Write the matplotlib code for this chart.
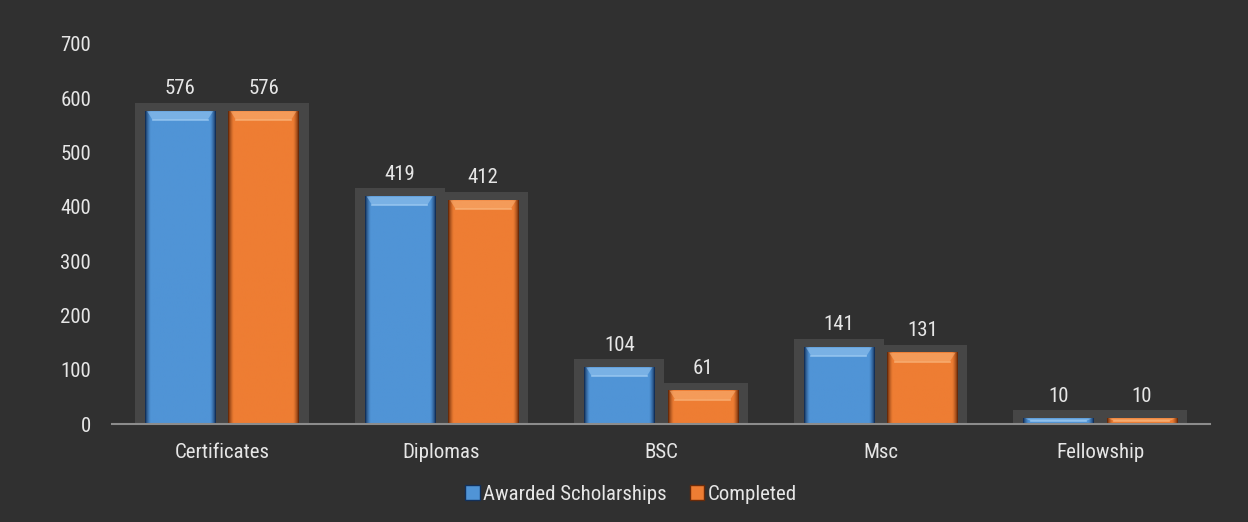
import matplotlib
matplotlib.use('Agg')
import matplotlib.pyplot as plt
from matplotlib.colors import to_rgb
from matplotlib.patches import Rectangle, Polygon, Patch
import numpy as np

categories = ['Certificates', 'Diplomas', 'BSC', 'Msc', 'Fellowship']
awarded = [576, 419, 104, 141, 10]
completed = [576, 412, 61, 131, 10]
series_names = ['Awarded Scholarships', 'Completed']

BG = '#303030'
SHADOW = '#464646'
TEXT = '#e6e6e6'
BLUE = '#5094d6'
BLUE_HI = '#9ccaf2'
BLUE_DK = '#12305a'
ORANGE = '#ee7d33'
ORANGE_HI = '#fab47a'
ORANGE_DK = '#6a2a08'

plt.rcParams['font.family'] = ['Roboto Condensed', 'DejaVu Sans']

fig = plt.figure(figsize=(12.48, 5.22), dpi=100, facecolor=BG)
ax = fig.add_axes([112 / 1248, 98 / 522, 1098 / 1248, 380 / 522])
ax.set_facecolor(BG)

x = np.arange(len(categories))
offset = 0.19
bar_w = 0.32
shadow_w = 0.41
ymax = 700


def edge_gradient(face, dk, n=64):
    # horizontal colour ramp: dark rims, flat face in the middle
    t = np.linspace(0, 1, n)
    mix = np.clip(np.minimum(t, 1 - t) / 0.07, 0, 1) ** 0.7
    f, d = np.array(to_rgb(face)), np.array(to_rgb(dk))
    return (d[None, :] * (1 - mix[:, None]) + f[None, :] * mix[:, None])[None, :, :]


def bevel_bar(cx, val, face, hi, dk):
    left = cx - bar_w / 2
    # soft shadow box behind the bar
    ax.add_patch(Rectangle((cx - shadow_w / 2, 0), shadow_w, val + 15,
                           facecolor=SHADOW, edgecolor='none', zorder=1))
    ax.imshow(edge_gradient(face, dk), extent=(left, left + bar_w, 0, val),
              aspect='auto', interpolation='bilinear', zorder=2)
    # bevelled top edge
    bh = min(16, val * 0.45)
    inset = 0.035
    ax.add_patch(Polygon([(left + 0.01, val), (left + bar_w - 0.01, val),
                          (left + bar_w - inset, val - bh),
                          (left + inset, val - bh)],
                         closed=True, facecolor=hi, edgecolor='none',
                         alpha=0.55, zorder=3))
    ax.plot([left + inset, left + bar_w - inset], [val - bh, val - bh],
            color=hi, lw=1.2, alpha=0.8, zorder=3)
    ax.text(cx, val + 24, str(val), ha='center', va='bottom',
            color=TEXT, fontsize=15, zorder=4)


for i in range(len(categories)):
    bevel_bar(x[i] - offset, awarded[i], BLUE, BLUE_HI, BLUE_DK)
    bevel_bar(x[i] + offset, completed[i], ORANGE, ORANGE_HI, ORANGE_DK)

ax.set_xlim(-0.5, len(categories) - 0.5)
ax.set_ylim(0, ymax)
ax.set_yticks(np.arange(0, 701, 100))
ax.set_xticks(x)
ax.set_xticklabels(categories)
ax.tick_params(axis='both', colors=TEXT, labelsize=15, length=0)
ax.tick_params(axis='y', pad=15)
ax.tick_params(axis='x', pad=14)
for side in ['top', 'right', 'left']:
    ax.spines[side].set_visible(False)
ax.spines['bottom'].set_color('#8c8c8c')
ax.spines['bottom'].set_linewidth(1.5)
ax.spines['bottom'].set_zorder(5)

handles = [Patch(facecolor=BLUE, edgecolor=BLUE_DK),
           Patch(facecolor=ORANGE, edgecolor=ORANGE_DK)]
fig.legend(handles, series_names, loc='center',
           bbox_to_anchor=(631 / 1248, 28 / 522),
           ncol=2, frameon=False, fontsize=15, labelcolor=TEXT,
           handlelength=0.7, handleheight=0.7, handletextpad=0.15,
           columnspacing=1.1)

fig.savefig('out.png', dpi=100, facecolor=BG)
